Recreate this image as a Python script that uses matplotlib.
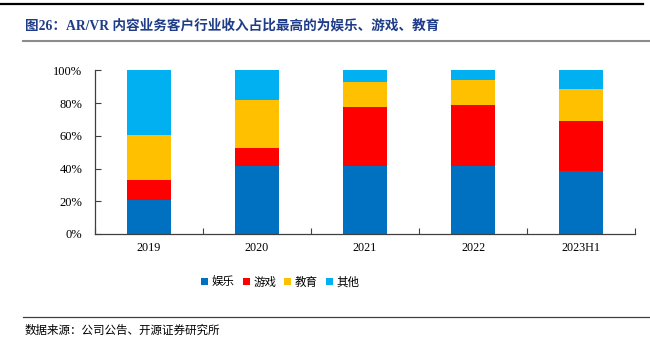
import matplotlib
matplotlib.use("Agg")
import matplotlib.pyplot as plt
import numpy as np
from matplotlib.lines import Line2D
from matplotlib.ticker import FixedLocator, PercentFormatter

plt.rcParams['font.family'] = ['Noto Sans CJK SC', 'DejaVu Sans']

categories = ["2019", "2020", "2021", "2022", "2023H1"]
series_names = ["娱乐", "游戏", "教育", "其他"]
entertainment = [20.6, 41.8, 41.3, 41.5, 38.3]
games = [12.4, 10.9, 36.5, 37.3, 30.7]
education = [27.5, 29.2, 15.1, 15.3, 19.8]
other = [39.5, 18.1, 7.1, 5.9, 11.2]
colors = ["#0070C0", "#FF0000", "#FFC000", "#00B0F0"]
y_ticks = [0, 20, 40, 60, 80, 100]

title = "图26：AR/VR 内容业务客户行业收入占比最高的为娱乐、游戏、教育"
source = "数据来源：公司公告、开源证券研究所"

W, H = 650, 348
fig = plt.figure(figsize=(W / 100, H / 100), dpi=100)

ax = fig.add_axes([95 / W, 1 - 234 / H, (635 - 95) / W, (234 - 70.3) / H])

x = np.arange(len(categories))
bottom = np.zeros(len(categories))
for name, vals, c in zip(series_names, [entertainment, games, education, other], colors):
    ax.bar(x, vals, width=0.40, bottom=bottom, color=c, label=name, zorder=2)
    bottom += np.array(vals)

ax.set_xlim(-0.5, len(categories) - 0.5)
ax.set_ylim(0, 100)

serif = ['Liberation Serif', 'DejaVu Serif']
ax.set_yticks(y_ticks)
ax.yaxis.set_major_formatter(PercentFormatter(decimals=0))
ax.tick_params(axis='y', direction='in', length=4, width=0.8, color='#404040',
               labelsize=9, pad=9)
ax.set_xticks(x)
ax.set_xticklabels(categories)
ax.xaxis.set_minor_locator(FixedLocator(np.arange(-0.5, len(categories), 1.0)))
ax.tick_params(axis='x', which='major', length=0, labelsize=8.7, pad=6)
ax.tick_params(axis='x', which='minor', direction='in', length=4, width=0.8, color='#404040')
for lbl in ax.get_xticklabels() + ax.get_yticklabels():
    lbl.set_fontfamily(serif)
    lbl.set_color('#000000')

for side in ['top', 'right']:
    ax.spines[side].set_visible(False)
for side in ['left', 'bottom']:
    ax.spines[side].set_color('#404040')
    ax.spines[side].set_linewidth(0.9)

leg = fig.legend(loc='center', bbox_to_anchor=(0.431, 1 - 282 / H), ncol=4, frameon=False,
                 fontsize=8.3, handlelength=0.6, handleheight=0.6, handletextpad=0.3,
                 columnspacing=0.7)

# header rule, title and title underline
fig.add_artist(Line2D([0, 643 / W], [1 - 3.7 / H] * 2, color='black', lw=1.6))
fig.text(25 / W, 1 - 26 / H, title, fontsize=9.8, fontweight='bold', color='#1F3C88',
         va='center', ha='left', family=['Liberation Serif', 'Noto Sans CJK SC'])
fig.add_artist(Line2D([23 / W, 1], [1 - 40.5 / H] * 2, color='#8C8C8C', lw=1.5))

# footer rule and source note
fig.add_artist(Line2D([23 / W, 1], [1 - 317 / H] * 2, color='#404040', lw=0.9))
fig.text(25 / W, 1 - 330 / H, source, fontsize=8.3, color='#000000', va='center', ha='left')

fig.savefig("out.png", dpi=100)
